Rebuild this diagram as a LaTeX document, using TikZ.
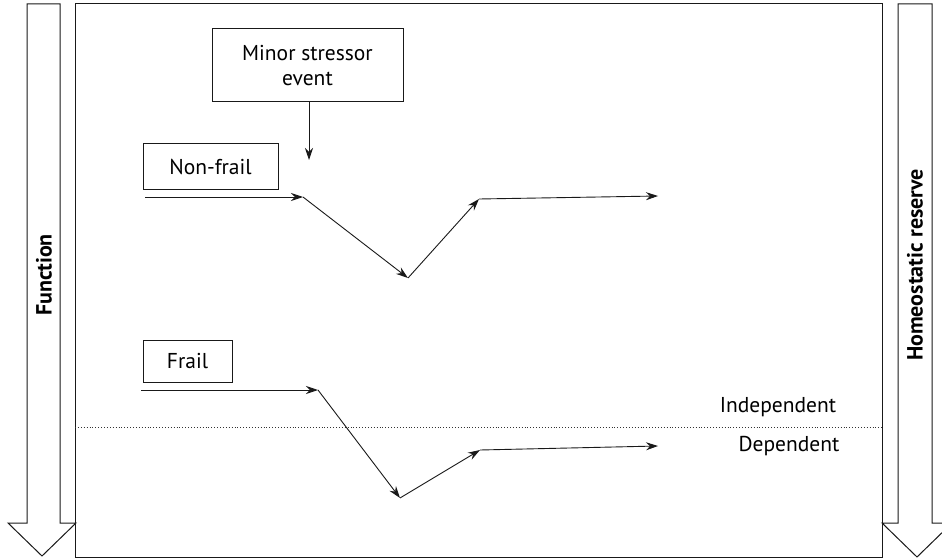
\documentclass[tikz,border=0pt]{standalone}
\usepackage{fontspec}
\setmainfont{PT Sans}
\usepackage{tikz}
\usetikzlibrary{arrows.meta,positioning}

\begin{document}
\begin{tikzpicture}[
        x=1pt, y=-1pt,
        font=\fontsize{21.5}{25}\selectfont,
        box/.style={
            draw=black!90,
            line width=1pt,
            align=center,
            inner sep=0pt
        },
        arrow/.style={-{Stealth[length=12pt,width=8pt,inset=4pt]}, line width=0.9pt, black!90},
        bigarrow/.style={draw=black!90, line width=1pt, fill=white},
        label/.style={font=\fontsize{22}{25}\selectfont\bfseries, rotate=90}
    ]
        \clip (0,0) rectangle (942,559);
        \useasboundingbox (0,0) rectangle (942,559);

        % side arrows
        \draw[bigarrow] (27,4) -- (60,4) -- (60,523) -- (76,523) -- (42,556) -- (8,523) -- (27,523) -- cycle;
        \draw[bigarrow] (898,4) -- (932,4) -- (932,523) -- (952,523) -- (917,557) -- (882,523) -- (898,523) -- cycle;
        \node[label] (func) at (44,275) {Function};
        \node[label] (reserve) at (915,265) {Homeostatic reserve};

        % frame and threshold
        \draw[black!90, line width=1pt] (75,4) rectangle (882,557);
        \coordinate (thl) at (75,427);
        \coordinate (thr) at (882,427);
        \draw[black!80, line width=0.9pt, dotted] (thl) -- (thr);
        \node (indep) at (778,407) {Independent};
        \node (dep) at (789,446) {Dependent};

        % boxes
        \node[box, minimum width=191pt, minimum height=73pt] (stress) at (307.5,65.5) {Minor stressor\\event};
        \node[box, minimum width=135pt, minimum height=45pt] (nonfrail) at (210.5,166.5) {Non-frail};
        \node[box, minimum width=89pt, minimum height=42pt] (frail) at (187.5,361) {Frail};

        \coordinate (hit) at (309,160);
        \draw[arrow] (stress.south -| hit) -- (hit);

        % trajectories
        \coordinate (n0) at (145,197);
        \coordinate (n1) at (303,197);
        \coordinate (n2) at (408,278);
        \coordinate (n3) at (479,199);
        \coordinate (n4) at (658,196);
        \coordinate (f0) at (141,390);
        \coordinate (f1) at (318,390);
        \coordinate (f2) at (400,498);
        \coordinate (f3) at (480,450);
        \coordinate (f4) at (658,446);
        \foreach \source/\target in {n0/n1,n1/n2,n2/n3,n3/n4,f0/f1,f1/f2,f2/f3,f3/f4} {
            \draw[arrow] (\source) -- (\target);
        }
    \end{tikzpicture}
\end{document}
